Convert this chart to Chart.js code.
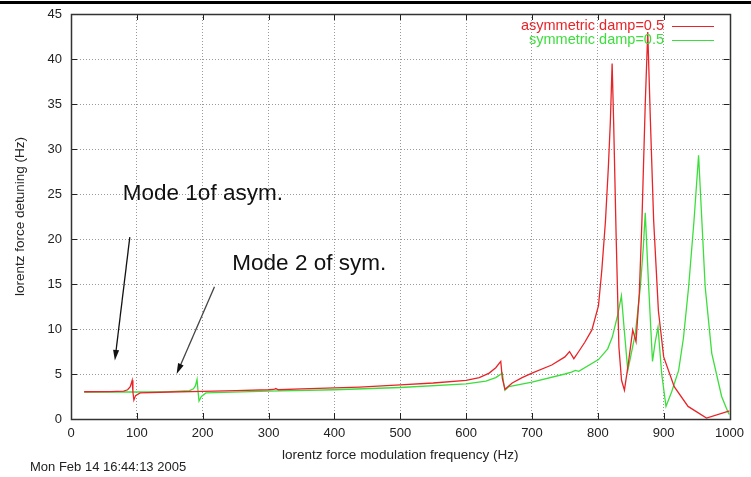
<!DOCTYPE html>
<html>
<head>
<meta charset="utf-8">
<script src="https://cdn.jsdelivr.net/npm/chart.js@4.4.1/dist/chart.umd.min.js"></script>
<style>
  html, body { margin: 0; padding: 0; background: #fff; }
  #wrap { position: relative; width: 751px; height: 477px; overflow: hidden; }
  #topline { position: absolute; left: 0; top: 1px; width: 751px; height: 3px; background: #000; }
  canvas { position: absolute; left: 0; top: 0; }
</style>
</head>
<body>
<div id="wrap">
  <canvas id="c" width="751" height="477"></canvas>
  <div id="topline"></div>
</div>
<script>
// ---- data ----
const xTicks = [0, 100, 200, 300, 400, 500, 600, 700, 800, 900, 1000];
const yTicks = [0, 5, 10, 15, 20, 25, 30, 35, 40, 45];

const asymFreq = [20, 60, 80, 86, 90, 92.9, 94, 95.5, 98, 105, 150, 200, 250, 300, 308, 311, 315, 350, 400, 438, 500, 550, 600, 620, 635, 645, 652.6, 655, 659, 670, 685, 700, 730, 750, 757, 763.6, 771, 780, 791, 801, 806, 811.6, 816, 819, 821.7, 824, 827.8, 832, 836, 840.4, 846, 853, 858, 863, 867, 872, 875.8, 879.8, 884.8, 892, 900, 916, 937, 965, 1000];
const asymVal  = [3.03, 3.05, 3.1, 3.25, 3.6, 4.3, 3.0, 2.1, 2.6, 2.9, 3.0, 3.08, 3.15, 3.25, 3.28, 3.38, 3.25, 3.35, 3.45, 3.55, 3.8, 4.0, 4.3, 4.6, 5.1, 5.7, 6.4, 4.5, 3.3, 4.0, 4.6, 5.1, 6.0, 6.9, 7.5, 6.7, 7.5, 8.5, 9.9, 12.6, 16.5, 22, 28, 33, 39.5, 33, 20.3, 8.0, 4.3, 3.2, 6.0, 9.9, 8.6, 14, 22.1, 35, 43, 33.2, 22, 12, 6.9, 3.6, 1.4, 0.1, 0.9];

const symFreq = [20, 100, 150, 180, 186, 189, 191.4, 193, 194.4, 198, 205, 300, 400, 500, 600, 630, 645, 655, 657, 659, 665, 700, 750, 760, 766, 771, 801, 815, 822, 830, 835.8, 840, 845.5, 850, 857, 864.6, 869, 872, 877, 883, 887, 891.4, 897, 903.5, 912, 922.7, 930, 937.9, 946, 953, 958, 963, 973, 988, 998, 1000];
const symVal  = [3.0, 3.0, 3.05, 3.15, 3.35, 3.7, 4.4, 3.0, 2.0, 2.5, 2.9, 3.1, 3.25, 3.5, 3.9, 4.2, 4.6, 5.1, 4.0, 3.2, 3.6, 4.1, 5.0, 5.2, 5.4, 5.3, 6.6, 7.8, 9.1, 11.5, 13.7, 10, 5.4, 7.0, 9.5, 14.7, 19, 22.9, 15, 6.4, 8.5, 10.2, 5.0, 1.4, 3.0, 5.4, 9.0, 14.7, 22, 29.3, 22, 14.7, 7.3, 2.5, 0.7, 0.5];

const seriesNames = ["asymmetric damp=0.5", "symmetric damp=0.5"];
const xTitle = "lorentz force modulation frequency (Hz)";
const yTitle = "lorentz force detuning (Hz)";
const stamp = "Mon Feb 14 16:44:13 2005";
// annotations: [text, textX, textY(baseline), arrowFromX, arrowFromY, arrowToX, arrowToY] in data units
const notes = [
  ["Mode 1of asym.", 78.7, 24.3, 89.3, 20.2, 66.6, 6.5],
  ["Mode 2 of sym.", 245, 16.6, 217.9, 14.7, 160.4, 5.0]
];

const RED = "rgb(232,36,40)";
const GREEN = "rgb(60,222,60)";
const FONT = "'Liberation Sans', Arial, Helvetica, sans-serif";

function pts(xs, ys) { return xs.map((x, i) => ({ x: x, y: ys[i] })); }

const deco = {
  id: "deco",
  afterDraw(chart) {
    const ctx = chart.ctx;
    const xs = chart.scales.x, ys = chart.scales.y;
    const a = chart.chartArea;
    ctx.save();
    // y tick labels
    ctx.fillStyle = "#222";
    ctx.font = "13px " + FONT;
    ctx.textAlign = "right";
    ctx.textBaseline = "middle";
    yTicks.forEach(v => ctx.fillText(String(v), a.left - 9, ys.getPixelForValue(v)));
    // tick marks (gnuplot style, inward, mirrored)
    ctx.strokeStyle = "#222";
    ctx.lineWidth = 1;
    ctx.beginPath();
    xTicks.forEach(v => {
      const px = Math.round(xs.getPixelForValue(v)) + 0.5;
      ctx.moveTo(px, a.bottom); ctx.lineTo(px, a.bottom - 6);
      ctx.moveTo(px, a.top); ctx.lineTo(px, a.top + 6);
    });
    yTicks.forEach(v => {
      const py = Math.round(ys.getPixelForValue(v)) + 0.5;
      ctx.moveTo(a.left, py); ctx.lineTo(a.left + 6, py);
      ctx.moveTo(a.right, py); ctx.lineTo(a.right - 6, py);
    });
    ctx.stroke();
    // border box
    ctx.strokeStyle = "#333";
    ctx.lineWidth = 1.5;
    ctx.strokeRect(Math.round(a.left) + 0.5, Math.round(a.top) + 0.5, Math.round(a.right - a.left), Math.round(a.bottom - a.top));

    // legend (text then line sample)
    ctx.font = "14.5px " + FONT;
    ctx.textAlign = "right";
    ctx.textBaseline = "middle";
    const cols = [RED, GREEN];
    seriesNames.forEach((n, i) => {
      const y = 26 + i * 14;
      ctx.fillStyle = cols[i];
      ctx.fillText(n, 664, y);
      ctx.strokeStyle = cols[i];
      ctx.lineWidth = 1.2;
      ctx.beginPath(); ctx.moveTo(672, y + 0.5); ctx.lineTo(714, y + 0.5); ctx.stroke();
    });

    // axis titles
    ctx.fillStyle = "#222";
    ctx.font = "13.5px " + FONT;
    ctx.textAlign = "center";
    ctx.textBaseline = "middle";
    ctx.fillText(xTitle, (a.left + a.right) / 2, 455);
    ctx.save();
    ctx.translate(20, (a.top + a.bottom) / 2);
    ctx.rotate(-Math.PI / 2);
    ctx.fillText(yTitle, 0, 0);
    ctx.restore();
    // timestamp
    ctx.font = "13px " + FONT;
    ctx.textAlign = "left";
    ctx.fillText(stamp, 30, 467);

    // annotations
    notes.forEach(n => {
      ctx.fillStyle = "#111";
      ctx.font = "22.5px " + FONT;
      ctx.textAlign = "left";
      ctx.textBaseline = "alphabetic";
      ctx.fillText(n[0], xs.getPixelForValue(n[1]), ys.getPixelForValue(n[2]));
      const x1 = xs.getPixelForValue(n[3]), y1 = ys.getPixelForValue(n[4]);
      const x2 = xs.getPixelForValue(n[5]), y2 = ys.getPixelForValue(n[6]);
      const ang = Math.atan2(y2 - y1, x2 - x1);
      const L = 11, W = 0.28;
      ctx.strokeStyle = n[0].indexOf("2") >= 0 ? "#444" : "#111";
      ctx.lineWidth = 1.3;
      ctx.beginPath();
      ctx.moveTo(x1, y1);
      ctx.lineTo(x2 - Math.cos(ang) * L * 0.8, y2 - Math.sin(ang) * L * 0.8);
      ctx.stroke();
      ctx.fillStyle = "#111";
      ctx.beginPath();
      ctx.moveTo(x2, y2);
      ctx.lineTo(x2 - L * Math.cos(ang - W), y2 - L * Math.sin(ang - W));
      ctx.lineTo(x2 - L * Math.cos(ang + W), y2 - L * Math.sin(ang + W));
      ctx.closePath();
      ctx.fill();
    });
    ctx.restore();
  }
};

new Chart(document.getElementById("c"), {
  type: "line",
  data: {
    datasets: [
      { label: seriesNames[0], data: pts(asymFreq, asymVal), borderColor: RED, borderWidth: 1.3, pointRadius: 0, tension: 0, fill: false },
      { label: seriesNames[1], data: pts(symFreq, symVal), borderColor: GREEN, borderWidth: 1.3, pointRadius: 0, tension: 0, fill: false }
    ]
  },
  options: {
    responsive: false,
    animation: false,
    devicePixelRatio: 1,
    layout: { padding: { left: 0, top: 14, right: 17, bottom: 0 } },
    plugins: { legend: { display: false }, tooltip: { enabled: false } },
    scales: {
      x: {
        type: "linear", min: 0, max: 1000,
        afterBuildTicks: s => { s.ticks = xTicks.map(v => ({ value: v })); },
        afterFit: s => { s.height = 58; },
        ticks: { color: "#222", font: { family: FONT, size: 13 }, padding: 7, maxRotation: 0, autoSkip: false, callback: v => String(v) },
        grid: {
          drawTicks: false,
          color: c => (c.tick && (c.tick.value === 0 || c.tick.value === 1000)) ? "rgba(0,0,0,0)" : "#9a9a9a",
          lineWidth: 1
        },
        border: { display: false, dash: [1, 2] }
      },
      y: {
        type: "linear", min: 0, max: 45,
        afterBuildTicks: s => { s.ticks = yTicks.map(v => ({ value: v })); },
        afterFit: s => { s.width = 71; },
        ticks: { display: false },
        grid: {
          drawTicks: false,
          color: c => (c.tick && (c.tick.value === 0 || c.tick.value === 45)) ? "rgba(0,0,0,0)" : "#9a9a9a",
          lineWidth: 1
        },
        border: { display: false, dash: [1, 2] }
      }
    }
  },
  plugins: [deco]
});
</script>
</body>
</html>
